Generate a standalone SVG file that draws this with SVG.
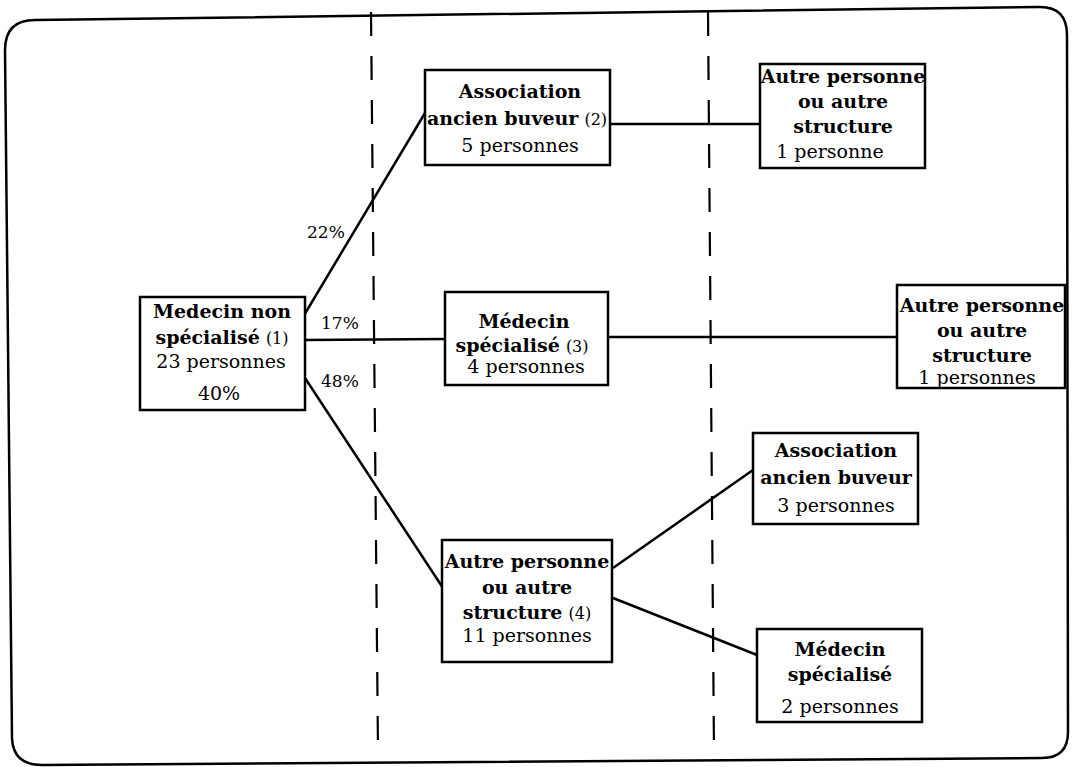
<svg xmlns="http://www.w3.org/2000/svg" width="1072" height="767" viewBox="0 0 1072 767">
  <style>
    .frame { fill: none; stroke: #000; stroke-width: 2.5; }
    .sep { fill: none; stroke: #000; stroke-width: 2.2; stroke-dasharray: 24 20; }
    .box { fill: #fff; stroke: #000; stroke-width: 2.5; }
    .link { fill: none; stroke: #000; stroke-width: 2.5; }
    text { font-family: "DejaVu Serif", "Liberation Serif", serif; font-size: 19px; fill: #000; text-anchor: middle; }
    .b { font-weight: bold; }
    .n { font-weight: normal; font-size: 16px; }
    .pct { font-size: 17px; text-anchor: start; }
  </style>

  <!-- outer rounded frame -->
  <path class="frame" d="M 35,20 L 1040,7 Q 1067,7 1067,35 L 1068,732 Q 1068,758 1042,758 L 42,765 Q 13,765 12,738 L 5,50 Q 5,20 35,20 Z"/>

  <!-- stage separators -->
  <line class="sep" x1="371" y1="12" x2="378" y2="752"/>
  <line class="sep" x1="708" y1="12" x2="714" y2="752"/>

  <g id="connectors">
    <line class="link" x1="300" y1="322" x2="425" y2="113"/>
    <line class="link" x1="305" y1="340" x2="445" y2="339"/>
    <line class="link" x1="305" y1="378" x2="443" y2="588"/>
    <line class="link" x1="610" y1="124" x2="760" y2="124"/>
    <line class="link" x1="608" y1="337" x2="897" y2="337"/>
    <line class="link" x1="613" y1="568" x2="753" y2="470"/>
    <line class="link" x1="613" y1="598" x2="757" y2="655"/>
    <text class="pct" x="307" y="238">22%</text>
    <text class="pct" x="321" y="329">17%</text>
    <text class="pct" x="321" y="387">48%</text>
  </g>

  <g id="n1">
    <rect class="box" x="140" y="297" width="165" height="113"/>
    <text class="b" x="222" y="318">Medecin non</text>
    <text x="222" y="344"><tspan class="b">spécialisé</tspan> <tspan class="n">(1)</tspan></text>
    <text x="221" y="368">23 personnes</text>
    <text x="219" y="400">40%</text>
  </g>

  <g id="n2">
    <rect class="box" x="425" y="70" width="185" height="95"/>
    <text class="b" x="520" y="98">Association</text>
    <text x="517" y="125"><tspan class="b">ancien buveur</tspan> <tspan class="n">(2)</tspan></text>
    <text x="520" y="152">5 personnes</text>
  </g>

  <g id="n3">
    <rect class="box" x="760" y="64" width="165" height="104"/>
    <text class="b" x="843" y="83">Autre personne</text>
    <text class="b" x="843" y="108">ou autre</text>
    <text class="b" x="843" y="133">structure</text>
    <text x="830" y="158">1 personne</text>
  </g>

  <g id="n4">
    <rect class="box" x="445" y="292" width="163" height="93"/>
    <text class="b" x="524" y="328">Médecin</text>
    <text x="522" y="352"><tspan class="b">spécialisé</tspan> <tspan class="n">(3)</tspan></text>
    <text x="526" y="373">4 personnes</text>
  </g>

  <g id="n5">
    <rect class="box" x="897" y="285" width="168" height="103"/>
    <text class="b" x="982" y="312">Autre personne</text>
    <text class="b" x="982" y="337">ou autre</text>
    <text class="b" x="982" y="362">structure</text>
    <text x="977" y="384">1 personnes</text>
  </g>

  <g id="n6">
    <rect class="box" x="442" y="540" width="170" height="122"/>
    <text class="b" x="527" y="568">Autre personne</text>
    <text class="b" x="527" y="594">ou autre</text>
    <text x="527" y="619"><tspan class="b">structure</tspan> <tspan class="n">(4)</tspan></text>
    <text x="527" y="642">11 personnes</text>
  </g>

  <g id="n7">
    <rect class="box" x="753" y="433" width="165" height="91"/>
    <text class="b" x="836" y="457">Association</text>
    <text class="b" x="836" y="484">ancien buveur</text>
    <text x="836" y="512">3 personnes</text>
  </g>

  <g id="n8">
    <rect class="box" x="757" y="629" width="165" height="93"/>
    <text class="b" x="840" y="656">Médecin</text>
    <text class="b" x="840" y="681">spécialisé</text>
    <text x="840" y="713">2 personnes</text>
  </g>
</svg>
